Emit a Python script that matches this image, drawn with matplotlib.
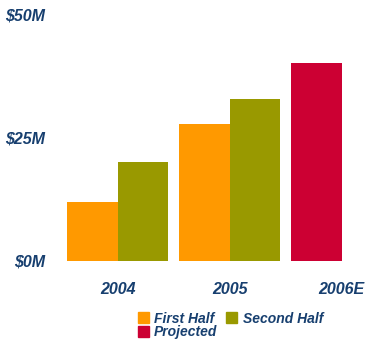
import numpy as np
import matplotlib
matplotlib.use('Agg')
from matplotlib import pyplot as plt
from matplotlib.patches import Patch

years = ['2004', '2005', '2006E']
first_half = [12, 27.7]
second_half = [20, 32.8]
projected = [40]
y_ticks = [0, 25, 50]
y_tick_labels = ['$0M', '$25M', '$50M']

orange = '#ff9900'
olive = '#999900'
crimson = '#cc0033'
navy = '#173f6f'

plt.rcParams['font.family'] = ['Liberation Sans', 'DejaVu Sans']

fig = plt.figure(figsize=(3.65, 3.4), dpi=100)
# axes box in figure pixels: x 55..365, y-baseline at 261px from top, top at 14px
ax = fig.add_axes([55 / 365, (340 - 261) / 340, 310 / 365, (261 - 14) / 340])

w = 0.455
x = np.arange(len(years))
ax.bar(x[:2] - w / 2, first_half, w, color=orange, linewidth=0)
ax.bar(x[:2] + w / 2, second_half, w, color=olive, linewidth=0)
ax.bar(x[2:] - w / 2, projected, w, color=crimson, linewidth=0)

ax.set_xlim((55 - 117.5) / 112, (365 - 117.5) / 112)
ax.set_ylim(0, 50)

ax.set_xticks(x)
ax.set_xticklabels(years)
ax.set_yticks(y_ticks)
ax.set_yticklabels(y_tick_labels)
for lbl in ax.get_xticklabels() + ax.get_yticklabels():
    lbl.set_fontsize(11.5)
    lbl.set_fontweight('bold')
    lbl.set_fontstyle('italic')
    lbl.set_color(navy)
ax.tick_params(axis='x', length=0, pad=15)
ax.tick_params(axis='y', length=0, pad=7)
for s in ax.spines.values():
    s.set_visible(False)

handles = [Patch(color=orange, label='First Half'),
           Patch(color=crimson, label='Projected'),
           Patch(color=olive, label='Second Half')]
leg = fig.legend(handles=handles, ncol=2, loc='upper left',
                 bbox_to_anchor=(132 / 365, 1 - 306 / 340), frameon=False,
                 handlelength=0.8, handleheight=0.8, handletextpad=0.4,
                 columnspacing=0.6, labelspacing=-0.02, borderaxespad=0,
                 prop={'size': 10, 'weight': 'bold', 'style': 'italic'})
for t in leg.get_texts():
    t.set_color(navy)

fig.savefig('out.png', dpi=100)
